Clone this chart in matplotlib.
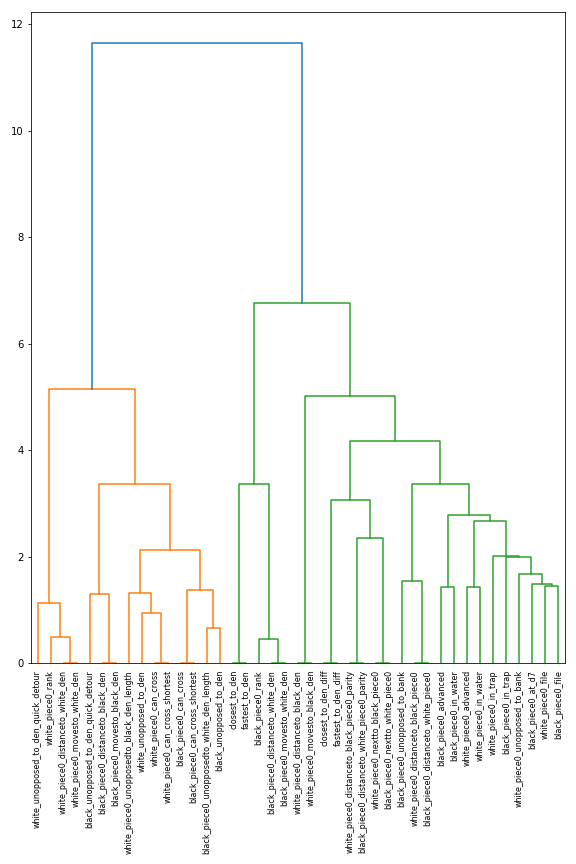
import matplotlib
matplotlib.use("Agg")
import matplotlib.pyplot as plt

# leaf labels, left to right as drawn
leaf_labels = [
    "white_unopposed_to_den_quick_detour",
    "white_piece0_rank",
    "white_piece0_distanceto_white_den",
    "white_piece0_movesto_white_den",
    "black_unopposed_to_den_quick_detour",
    "black_piece0_distanceto_black_den",
    "black_piece0_movesto_black_den",
    "white_piece0_unopposedto_black_den_length",
    "white_unopposed_to_den",
    "white_piece0_can_cross",
    "white_piece0_can_cross_shortest",
    "black_piece0_can_cross",
    "black_piece0_can_cross_shortest",
    "black_piece0_unopposedto_white_den_length",
    "black_unopposed_to_den",
    "closest_to_den",
    "fastest_to_den",
    "black_piece0_rank",
    "black_piece0_distanceto_white_den",
    "black_piece0_movesto_white_den",
    "white_piece0_distanceto_black_den",
    "white_piece0_movesto_black_den",
    "closest_to_den_diff",
    "fastest_to_den_diff",
    "white_piece0_distanceto_black_piece0_parity",
    "black_piece0_distanceto_white_piece0_parity",
    "white_piece0_nextto_black_piece0",
    "black_piece0_nextto_white_piece0",
    "black_piece0_unopposed_to_bank",
    "white_piece0_distanceto_black_piece0",
    "black_piece0_distanceto_white_piece0",
    "black_piece0_advanced",
    "black_piece0_in_water",
    "white_piece0_advanced",
    "white_piece0_in_water",
    "white_piece0_in_trap",
    "black_piece0_in_trap",
    "white_piece0_unopposed_to_bank",
    "black_piece0_at_d7",
    "white_piece0_file",
    "black_piece0_file",
]

# linkage: ids < 41 are leaves, merge k creates id 41 + k
merge_left = [2, 1, 0, 5, 4, 9, 8, 7, 11, 13, 49, 48, 45, 43,
              15, 18, 17, 55, 20, 22, 24, 26, 61, 60, 29, 28, 31, 33,
              39, 38, 37, 36, 35, 68, 67, 66, 64, 59, 58,
              54]
merge_right = [3, 41, 42, 6, 44, 10, 46, 47, 12, 14, 50, 51, 52, 53,
               16, 19, 56, 57, 21, 23, 25, 27, 62, 63, 30, 65, 32, 34,
               40, 69, 70, 71, 72, 73, 74, 75, 76, 77, 78,
               79]
merge_height = [0.0, 0.49, 1.13, 0.0, 1.30, 0.0, 0.94, 1.32, 0.0, 0.66, 1.37, 2.12, 3.36, 5.14,
                0.0, 0.0, 0.46, 3.36, 0.0, 0.0, 0.0, 0.0, 2.35, 3.06, 0.0, 1.54, 1.42, 1.42,
                1.44, 1.49, 1.68, 2.00, 2.01, 2.66, 2.79, 3.36, 4.18, 5.01, 6.77,
                11.65]

cluster_colors = ["C1", "C2"]
above_color = "C0"

n = len(leaf_labels)
xpos = {i: 5 + 10 * i for i in range(n)}
ypos = {i: 0.0 for i in range(n)}
for k, (a, b, h) in enumerate(zip(merge_left, merge_right, merge_height)):
    xpos[n + k] = (xpos[a] + xpos[b]) / 2
    ypos[n + k] = h

# colour of each link: the two top subtrees get their own colour
root = n + len(merge_height) - 1
link_color = {}


def paint(node, color):
    if node < n:
        return
    link_color[node] = color
    k = node - n
    paint(merge_left[k], color)
    paint(merge_right[k], color)


link_color[root] = above_color
paint(merge_left[root - n], cluster_colors[0])
paint(merge_right[root - n], cluster_colors[1])

fig = plt.figure(figsize=(8, 12), dpi=72)
ax = fig.add_axes([31 / 576, 1 - 663 / 864, 534 / 576, 651 / 864])

for k, (a, b, h) in enumerate(zip(merge_left, merge_right, merge_height)):
    node = n + k
    ax.plot([xpos[a], xpos[a], xpos[b], xpos[b]], [ypos[a], h, h, ypos[b]],
            color=link_color[node], linewidth=1.5)

ax.set_xlim(0, 10 * n)
ax.set_ylim(0, max(merge_height) * 1.05)
ax.set_xticks([xpos[i] for i in range(n)])
ax.set_xticklabels(leaf_labels, rotation=90, fontsize=8)
for line in ax.get_xticklines():
    line.set_visible(False)
ax.set_yticks([0, 2, 4, 6, 8, 10, 12])

fig.savefig("out.png", dpi=72)
